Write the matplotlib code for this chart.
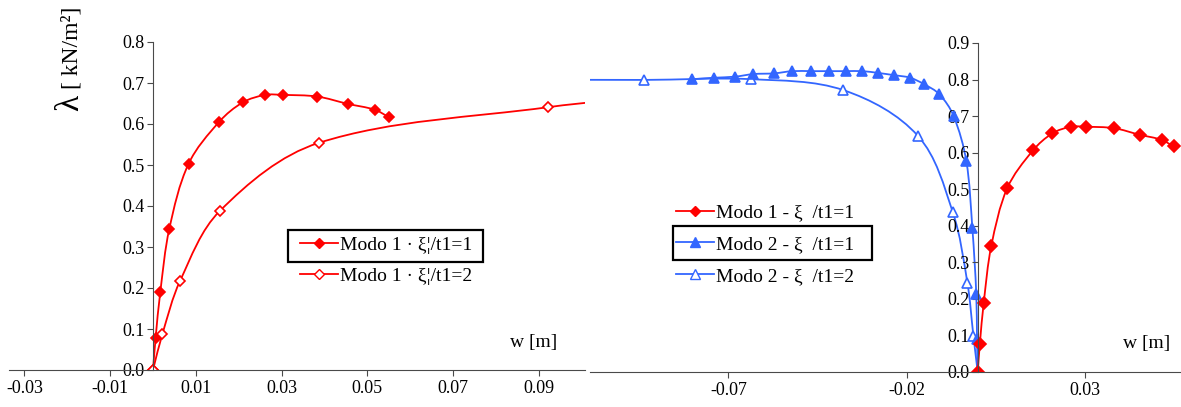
import numpy as np
import matplotlib
matplotlib.use('Agg')
import matplotlib.pyplot as plt
from matplotlib.lines import Line2D
from matplotlib.path import Path
from matplotlib.patches import PathPatch, Rectangle

plt.rcParams['font.family'] = ['Liberation Serif', 'DejaVu Serif']
plt.rcParams['font.size'] = 13

# --- data ---
# Modo 1, xi/t1 = 1
m1_t1_w = [0.0, 0.0006, 0.0017, 0.0038, 0.0083, 0.0155, 0.0210, 0.0262, 0.0303, 0.0383, 0.0455, 0.0517, 0.0550]
m1_t1_l = [0.0, 0.077, 0.190, 0.344, 0.503, 0.606, 0.653, 0.671, 0.671, 0.667, 0.649, 0.635, 0.617]
# Modo 1, xi/t1 = 2 (last point lies beyond the visible range)
m1_t2_w = [0.0, 0.0022, 0.0063, 0.0156, 0.0387, 0.0922, 0.120]
m1_t2_l = [0.0, 0.088, 0.217, 0.388, 0.554, 0.641, 0.670]
# Modo 2, xi/t1 = 1
m2_t1_w = [0.0, -0.0002, -0.0004, -0.0015, -0.0032, -0.0068, -0.0108, -0.0150, -0.0190, -0.0235,
           -0.0279, -0.0324, -0.0371, -0.0418, -0.0467, -0.0521, -0.0571, -0.0630, -0.0681, -0.0740, -0.0802]
m2_t1_l = [0.0, 0.089, 0.213, 0.393, 0.577, 0.701, 0.760, 0.787, 0.805, 0.812,
           0.818, 0.823, 0.823, 0.823, 0.823, 0.823, 0.817, 0.815, 0.808, 0.805, 0.801]
# Modo 2, xi/t1 = 2 (last point lies beyond the visible range)
m2_t2_w = [0.0, -0.0012, -0.0029, -0.0070, -0.0168, -0.0377, -0.0636, -0.0937, -0.125]
m2_t2_l = [0.0, 0.098, 0.244, 0.437, 0.646, 0.771, 0.801, 0.799, 0.800]

left_labels = ['Modo 1 · ξ¦/t1=1', 'Modo 1 · ξ¦/t1=2']
right_labels = ['Modo 1 - ξ  /t1=1', 'Modo 2 - ξ  /t1=1', 'Modo 2 - ξ  /t1=2']

RED = '#ff0000'
BLUE = '#3366ff'
AXC = '#4a4a4a'

W, H = 1181, 407


def smooth_path(x, y, sx, sy):
    # smoothed line through the points (cubic Bezier, handles 1/3 of the chord)
    pts = np.column_stack([np.asarray(x, float) * sx, np.asarray(y, float) * sy])
    n = len(pts)
    tang = []
    for i in range(n):
        a = pts[max(i - 1, 0)]
        b = pts[min(i + 1, n - 1)]
        t = b - a
        tang.append(t / (np.hypot(*t) + 1e-12))
    verts = [pts[0]]
    codes = [Path.MOVETO]
    for i in range(n - 1):
        d = np.hypot(*(pts[i + 1] - pts[i]))
        verts += [pts[i] + tang[i] * d / 3, pts[i + 1] - tang[i + 1] * d / 3, pts[i + 1]]
        codes += [Path.CURVE4] * 3
    verts = np.array(verts) / [sx, sy]
    return Path(verts, codes)


def series(ax, x, y, color, marker, filled, ms, sx, sy):
    ax.add_patch(PathPatch(smooth_path(x, y, sx, sy), facecolor='none', edgecolor=color, lw=1.3))
    ax.plot(x, y, ls='none', marker=marker, ms=ms, color=color,
            markerfacecolor=color if filled else 'white', markeredgecolor=color, mew=1.2)


def style_axes(ax, xticks):
    for s in ['top', 'right']:
        ax.spines[s].set_visible(False)
    ax.spines['left'].set_position(('data', 0))
    ax.spines['left'].set_color(AXC)
    ax.spines['bottom'].set_color(AXC)
    ax.set_xticks(xticks)
    ax.set_xticklabels(['%.2f' % v for v in xticks])
    ax.tick_params(axis='both', direction='out', length=4, color=AXC, labelsize=13)
    ax.tick_params(axis='x', pad=3)
    ax.tick_params(axis='y', pad=2)
    ax.yaxis.set_major_formatter(plt.FormatStrFormatter('%.1f'))
    ax.patch.set_alpha(0)


fig = plt.figure(figsize=(W / 100, H / 100), dpi=100)

# ---------------- left chart ----------------
axL = fig.add_axes([9 / W, (H - 370) / H, 576 / W, 328 / H])
axL.set_xlim(-0.0336, 0.1008)
axL.set_ylim(0, 0.8)
axL.set_yticks(np.arange(0, 0.81, 0.1))
sxL, syL = 576 / (0.1008 + 0.0336), 328 / 0.8
series(axL, m1_t1_w, m1_t1_l, RED, 'D', True, 5.5, sxL, syL)
series(axL, m1_t2_w, m1_t2_l, RED, 'D', False, 5.5, sxL, syL)
style_axes(axL, [-0.03, -0.01, 0.01, 0.03, 0.05, 0.07, 0.09])
axL.text(0.0833, 0.066, 'w [m]', ha='left', va='center', fontsize=14)

hL = [Line2D([], [], color=RED, marker='D', ms=5.5, lw=1.3, mfc=RED),
      Line2D([], [], color=RED, marker='D', ms=5.5, lw=1.3, mfc='white', mec=RED)]
axL.legend(hL, left_labels, loc='upper left', bbox_to_anchor=(300 / W, 1 - 236 / H),
           bbox_transform=fig.transFigure, frameon=False, fontsize=14,
           handlelength=1.95, handletextpad=0.12, labelspacing=0.72, borderpad=0, borderaxespad=0)
fig.patches.append(Rectangle((288 / W, 1 - 262 / H), 195 / W, 32 / H, transform=fig.transFigure,
                             fill=False, ec='black', lw=1.6))

fig.text(72 / W, 1 - 48 / H, '[ kN/m²]', rotation=90, ha='center', va='center', fontsize=17)
fig.text(70 / W, 1 - 103 / H, 'λ', rotation=90, ha='center', va='center', fontsize=24)

# ---------------- right chart ----------------
axR = fig.add_axes([590 / W, (H - 372) / H, 591 / W, 329 / H])
axR.set_xlim(-0.1089, 0.0571)
axR.set_ylim(0, 0.9)
axR.set_yticks(np.arange(0, 0.91, 0.1))
sxR, syR = 591 / (0.0571 + 0.1089), 329 / 0.9
series(axR, m2_t2_w, m2_t2_l, BLUE, '^', False, 7, sxR, syR)
series(axR, m2_t1_w, m2_t1_l, BLUE, '^', True, 7, sxR, syR)
series(axR, m1_t1_w, m1_t1_l, RED, 'D', True, 6, sxR, syR)
style_axes(axR, [-0.07, -0.02, 0.03])
axR.text(0.0408, 0.078, 'w [m]', ha='left', va='center', fontsize=14)

hR = [Line2D([], [], color=RED, marker='D', ms=5.5, lw=1.3, mfc=RED),
      Line2D([], [], color=BLUE, marker='^', ms=7, lw=1.3, mfc=BLUE),
      Line2D([], [], color=BLUE, marker='^', ms=7, lw=1.3, mfc='white', mec=BLUE)]
axR.legend(hR, right_labels, loc='upper left', bbox_to_anchor=(676 / W, 1 - 204 / H),
           bbox_transform=fig.transFigure, frameon=False, fontsize=14,
           handlelength=1.95, handletextpad=0.12, labelspacing=0.72, borderpad=0, borderaxespad=0)
fig.patches.append(Rectangle((673 / W, 1 - 260 / H), 199 / W, 34 / H, transform=fig.transFigure,
                             fill=False, ec='black', lw=1.6))

fig.savefig('out.png', dpi=100)
